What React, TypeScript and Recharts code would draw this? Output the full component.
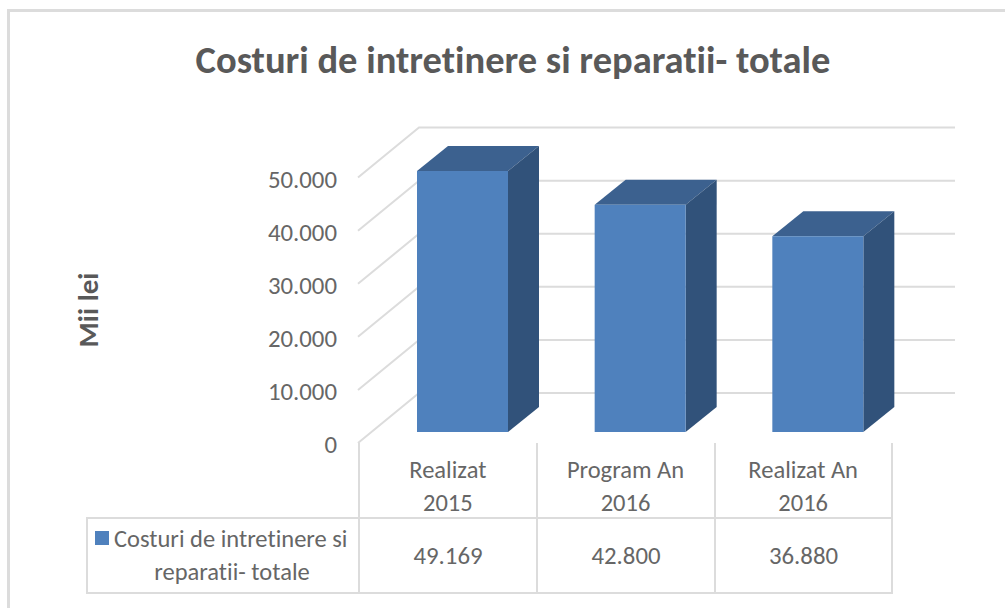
import React from 'react';
import { BarChart, Bar, XAxis, YAxis, CartesianGrid, Customized } from 'recharts';

const categories = ['Realizat 2015', 'Program An 2016', 'Realizat An 2016'];
const categoryLines = [['Realizat', '2015'], ['Program An', '2016'], ['Realizat An', '2016']];
const values = [49169, 42800, 36880];
const valueLabels = ['49.169', '42.800', '36.880'];
const yTicks = [0, 10000, 20000, 30000, 40000, 50000];

const data = categories.map((name, i) => ({ name, value: values[i] }));

const FONT = 'Carlito, "Open Sans", "Noto Sans", sans-serif';
const TEXT = '#666666';
const LINE = '#dcdcdc';
const DX = 31;
const DY = 25;
const noLig = { fontVariantLigatures: 'none' } as React.CSSProperties;

const formatTick = (v: number) => (v === 0 ? '0' : v.toLocaleString('de-DE'));

// front, top and side faces of one column
const Prism = (props: any) => {
  const { x, y, width, height } = props;
  const r = x + width;
  const b = y + height;
  return (
    <g>
      <polygon points={`${x},${y} ${r},${y} ${r + DX},${y - DY} ${x + DX},${y - DY}`} fill="#3c618f" />
      <polygon points={`${r},${y} ${r + DX},${y - DY} ${r + DX},${b - DY} ${r},${b}`} fill="#31527a" />
      <rect x={x} y={y} width={width} height={height} fill="#4f81bd" />
    </g>
  );
};

// side wall + back wall line for one gridline
const gridLine = (props: any) => {
  const { y1 } = props;
  return (
    <polyline
      key={y1}
      points={`358,${y1 + 11} 419,${y1 - 39} 955,${y1 - 39}`}
      fill="none"
      stroke={LINE}
      strokeWidth={2}
    />
  );
};

const YTick = (props: any) => {
  const { y, payload } = props;
  return (
    <text x={337} y={y + 21} textAnchor="end" fontSize={24.8} fontFamily={FONT} fill={TEXT} style={noLig}>
      {formatTick(payload.value)}
    </text>
  );
};

const XTick = (props: any) => {
  const { x, index } = props;
  const lines = categoryLines[index];
  return (
    <text x={x - 15} textAnchor="middle" fontSize={24.5} fontFamily={FONT} fill={TEXT} style={noLig}>
      <tspan x={x - 15} y={478}>{lines[0]}</tspan>
      <tspan x={x - 15} y={511}>{lines[1]}</tspan>
    </text>
  );
};

const DataTable = () => {
  const xs = [359, 537, 715, 892];
  return (
    <g>
      <rect x={87} y={518} width={805} height={75} fill="none" stroke={LINE} strokeWidth={2} />
      {xs.map((x) => (
        <line key={x} x1={x} x2={x} y1={443} y2={593} stroke={LINE} strokeWidth={2} />
      ))}
      <rect x={95} y={531} width={14} height={14} fill="#4f81bd" />
      <text fontSize={24.5} fontFamily={FONT} fill={TEXT} style={noLig}>
        <tspan x={114} y={547}>Costuri de intretinere si</tspan>
        <tspan x={232} y={580} textAnchor="middle">reparatii- totale</tspan>
      </text>
      {valueLabels.map((label, i) => (
        <text key={label} x={(xs[i] + xs[i + 1]) / 2} y={564} textAnchor="middle" fontSize={24.8} fontFamily={FONT} fill={TEXT}>
          {label}
        </text>
      ))}
    </g>
  );
};

const Frame = () => (
  <g>
    <rect x={8.5} y={10.5} width={1020} height={640} fill="none" stroke={LINE} strokeWidth={3} />
    <text x={513} y={73} textAnchor="middle" fontSize={38.5} fontWeight={700} fontFamily={FONT} fill="#595959" style={noLig}>
      Costuri de intretinere si reparatii- totale
    </text>
    <text
      transform="translate(98,310) rotate(-90)"
      textAnchor="middle"
      fontSize={29}
      fontWeight={700}
      fontFamily={FONT}
      fill="#595959"
    >
      Mii lei
    </text>
  </g>
);

export default function App() {
  return (
    <div style={{ position: 'absolute', left: 0, top: 0, width: 1005, height: 608, overflow: 'hidden', background: '#fff' }}>
      <BarChart
        width={1005}
        height={608}
        data={data}
        margin={{ top: 166.6, right: 98, bottom: 146, left: 334 }}
        barCategoryGap={0}
      >
        <Customized component={Frame} />
        <CartesianGrid vertical={false} horizontal={gridLine} />
        <XAxis dataKey="name" axisLine={false} tickLine={false} tick={XTick} interval={0} height={30} />
        <YAxis
          type="number"
          domain={[0, 50000]}
          ticks={yTicks}
          axisLine={false}
          tickLine={false}
          tick={YTick}
          width={40}
        />
        <Customized component={DataTable} />
        <Bar dataKey="value" barSize={91} shape={Prism} isAnimationActive={false} />
      </BarChart>
    </div>
  );
}
